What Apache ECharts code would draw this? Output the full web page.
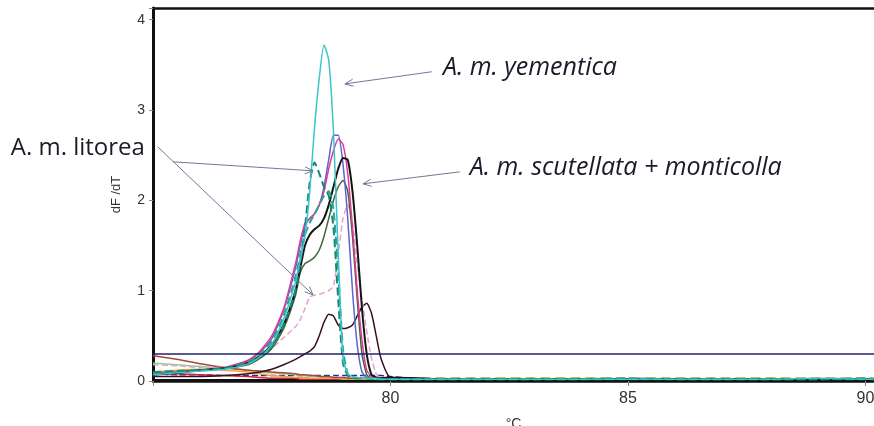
<!DOCTYPE html>
<html><head><meta charset="utf-8">
<script src="https://cdn.jsdelivr.net/npm/echarts@6/dist/echarts.min.js"></script>
<style>html,body{margin:0;padding:0;background:#fff}#c{width:874px;height:426px}</style>
</head><body><div id="c"></div>
<script>
// Temperatures (°C)
const temps = [75, 75.5, 76, 76.5, 77, 77.25, 77.5, 77.75, 78, 78.1, 78.2, 78.3, 78.4, 78.5, 78.6, 78.7, 78.8, 78.9, 79, 79.1, 79.2, 79.3, 79.4, 79.5, 79.6, 79.7, 79.8, 80, 80.5, 81, 82, 83, 84, 85, 86, 87, 88, 89, 90, 90.18];

// dF/dT values
const yementica = [0.07,0.09,0.11,0.13,0.19,0.27,0.4,0.68,1.1,1.35,1.6,2.1,2.8,3.35,3.72,3.55,2.75,1.4,0.25,0.08,0.05,0.04,0.03,0.03,0.03,0.03,0.02,0.02,0.02,0.02,0.02,0.02,0.02,0.02,0.02,0.02,0.02,0.03,0.02,0.02];
const litoreaA = [0.1,0.11,0.12,0.14,0.2,0.27,0.38,0.62,1.0,1.3,1.7,2.2,2.42,2.3,2.15,2.05,1.7,0.9,0.2,0.06,0.04,0.03,0.03,0.03,0.03,0.02,0.02,0.02,0.02,0.02,0.02,0.02,0.02,0.02,0.02,0.02,0.02,0.02,0.02,0.02];
const litoreaB = [0.09,0.1,0.12,0.14,0.21,0.3,0.44,0.72,1.15,1.4,1.62,1.75,1.85,1.95,2.05,2.1,1.9,1.2,0.35,0.08,0.04,0.03,0.03,0.03,0.02,0.02,0.02,0.02,0.02,0.02,0.02,0.02,0.02,0.03,0.02,0.02,0.02,0.02,0.03,0.02];
const scutBlue = [0.07,0.09,0.12,0.14,0.22,0.32,0.47,0.78,1.25,1.5,1.72,1.8,1.85,1.95,2.15,2.45,2.72,2.72,2.4,1.8,1.0,0.4,0.1,0.04,0.03,0.03,0.02,0.02,0.02,0.02,0.02,0.02,0.02,0.02,0.02,0.02,0.02,0.02,0.02,0.02];
const scutPink = [0.08,0.1,0.12,0.15,0.23,0.33,0.5,0.8,1.3,1.55,1.75,1.8,1.85,1.95,2.1,2.35,2.55,2.68,2.62,2.3,1.7,1.0,0.45,0.12,0.05,0.03,0.02,0.02,0.02,0.02,0.02,0.02,0.02,0.02,0.02,0.02,0.02,0.02,0.02,0.02];
const monticBlack = [0.07,0.09,0.12,0.14,0.2,0.28,0.4,0.62,1.0,1.25,1.5,1.62,1.68,1.72,1.8,1.95,2.15,2.35,2.47,2.45,2.1,1.5,0.8,0.3,0.07,0.04,0.03,0.04,0.03,0.02,0.02,0.02,0.02,0.02,0.02,0.02,0.02,0.02,0.02,0.02];
const monticOlive = [0.09,0.1,0.12,0.14,0.18,0.25,0.36,0.58,0.95,1.2,1.3,1.33,1.37,1.45,1.6,1.8,2.0,2.15,2.22,2.1,1.6,0.9,0.3,0.07,0.03,0.03,0.02,0.02,0.02,0.02,0.02,0.02,0.02,0.02,0.02,0.02,0.02,0.02,0.02,0.02];
const lightPink = [0.18,0.17,0.15,0.15,0.22,0.28,0.36,0.48,0.6,0.68,0.8,0.93,0.95,0.96,0.98,1.0,1.05,1.4,1.8,1.95,1.75,1.3,0.9,0.55,0.25,0.08,0.03,0.02,0.02,0.02,0.02,0.02,0.02,0.02,0.02,0.02,0.02,0.02,0.02,0.02];
const maroon = [0.05,0.05,0.05,0.06,0.08,0.1,0.13,0.18,0.24,0.27,0.3,0.33,0.38,0.5,0.65,0.74,0.72,0.62,0.58,0.59,0.62,0.72,0.82,0.86,0.75,0.5,0.25,0.04,0.03,0.02,0.02,0.02,0.02,0.02,0.02,0.02,0.02,0.02,0.02,0.02];
const brownRed = [0.28,0.24,0.19,0.15,0.12,0.11,0.1,0.09,0.08,0.07,0.07,0.06,0.06,0.05,0.05,0.05,0.04,0.04,0.04,0.03,0.03,0.03,0.03,0.03,0.03,0.03,0.03,0.02,0.02,0.02,0.02,0.02,0.02,0.02,0.02,0.02,0.02,0.02,0.02,0.02];
const lightGreen = [0.2,0.18,0.16,0.14,0.12,0.1,0.09,0.08,0.07,0.06,0.06,0.05,0.05,0.05,0.04,0.04,0.04,0.03,0.03,0.03,0.03,0.03,0.03,0.03,0.03,0.02,0.02,0.02,0.02,0.02,0.02,0.02,0.02,0.02,0.02,0.02,0.02,0.02,0.02,0.02];
const orange = [0.1,0.12,0.13,0.12,0.1,0.08,0.06,0.05,0.04,0.04,0.04,0.03,0.03,0.03,0.03,0.03,0.03,0.03,0.02,0.02,0.02,0.02,0.02,0.02,0.02,0.02,0.02,0.02,0.02,0.02,0.02,0.02,0.02,0.02,0.02,0.02,0.02,0.02,0.02,0.02];
const redLow = [0.08,0.08,0.07,0.06,0.05,0.04,0.03,0.03,0.03,0.02,0.02,0.02,0.02,0.02,0.02,0.02,0.02,0.02,0.02,0.02,0.02,0.02,0.02,0.02,0.02,0.02,0.02,0.02,0.02,0.02,0.02,0.02,0.02,0.02,0.02,0.02,0.02,0.02,0.02,0.02];
const navyLow = [0.08,0.07,0.07,0.06,0.06,0.06,0.06,0.06,0.06,0.06,0.06,0.06,0.06,0.06,0.06,0.06,0.06,0.06,0.06,0.06,0.06,0.06,0.06,0.06,0.06,0.06,0.06,0.05,0.03,0.02,0.02,0.02,0.02,0.02,0.02,0.02,0.02,0.02,0.02,0.02];
const baseLine = [0.01,0.01,0.01,0.01,0.01,0.01,0.01,0.01,0.01,0.01,0.01,0.01,0.01,0.01,0.01,0.01,0.01,0.01,0.01,0.01,0.01,0.01,0.01,0.01,0.01,0.01,0.01,0.01,0.01,0.01,0.01,0.01,0.01,0.01,0.01,0.01,0.01,0.01,0.01,0.01];
const tailDash = [null,null,null,null,null,null,null,null,null,null,null,null,null,null,null,null,null,null,null,null,null,null,null,null,null,null,null,0.03,0.03,0.03,0.03,0.03,0.03,0.03,0.03,0.03,0.03,0.03,0.03,0.03];

// Threshold level
const threshold = 0.3;

// Axis ticks
const xTicks = [80, 85, 90];
const yTicks = [0, 1, 2, 3, 4];

const seriesDefs = [
  ['baseline', baseLine, '#111111', 2, 'solid'],
  ['navyLow', navyLow, '#2a2a8a', 1.5, 'dashed'],
  ['redLow', redLow, '#d02040', 1.5, 'solid'],
  ['orange', orange, '#f0a040', 1.5, 'solid'],
  ['lightGreen', lightGreen, '#8fd08f', 1.5, 'solid'],
  ['brownRed', brownRed, '#a84838', 1.5, 'solid'],
  ['tail', tailDash, '#b8c060', 2.5, 'dashed'],
  ['maroon', maroon, '#3a1020', 1.5, 'solid'],
  ['lightPink', lightPink, '#e6a0d4', 1.5, 'dashed'],
  ['monticOlive', monticOlive, '#40663a', 1.5, 'solid'],
  ['scutBlue', scutBlue, '#6060d8', 1.5, 'solid'],
  ['scutPink', scutPink, '#e03c96', 1.5, 'solid'],
  ['monticBlack', monticBlack, '#151515', 2, 'solid'],
  ['litoreaB', litoreaB, '#2aa58a', 2, 'dashed'],
  ['litoreaA', litoreaA, '#12897a', 2, 'dashed'],
  ['yementica', yementica, '#3cc4c8', 1.5, 'solid']
];

const series = seriesDefs.map(([name, vals, color, w, type]) => ({
  name, type: 'line', showSymbol: false, smooth: 0.2, connectNulls: false,
  data: temps.map((t, i) => [t, vals[i]]),
  lineStyle: { color, width: w, type }, itemStyle: { color },
  silent: true
}));
series[0].markLine = {
  symbol: ['none', 'none'], silent: true, label: { show: false },
  lineStyle: { color: '#22226e', width: 1.5, type: 'solid' },
  data: [{ yAxis: threshold }]
};

const chart = echarts.init(document.getElementById('c'), null, { renderer: 'canvas' });
chart.setOption({
  animation: false,
  backgroundColor: '#ffffff',
  grid: { left: 153, right: 0, top: 8, bottom: 45, containLabel: false, outerBoundsMode: 'none' },
  xAxis: [{
    type: 'value', min: 75, max: 90.18, interval: 5,
    name: '°C', nameLocation: 'middle', nameGap: 36,
    nameTextStyle: { fontFamily: 'Liberation Sans', fontSize: 14, color: '#333' },
    axisLine: { lineStyle: { color: '#111', width: 2.5 } },
    axisTick: { length: 5, lineStyle: { color: '#888' } },
    axisLabel: { fontFamily: 'Liberation Sans', fontSize: 16, color: '#333', margin: 10,
      formatter: v => xTicks.includes(v) ? String(v) : '' },
    splitLine: { show: false }
  }, {
    type: 'value', position: 'top', min: 75, max: 90.18,
    axisLine: { show: true, lineStyle: { color: '#111', width: 2.5 } },
    axisTick: { show: false }, axisLabel: { show: false }, splitLine: { show: false }
  }],
  yAxis: {
    type: 'value', min: 0, max: 4.13, interval: 1,
    name: 'dF /dT', nameLocation: 'middle', nameGap: 30,
    nameTextStyle: { fontFamily: 'Liberation Sans', fontSize: 13, color: '#333' },
    axisLine: { show: true, lineStyle: { color: '#111', width: 3 } },
    axisTick: { show: true, length: 4, lineStyle: { color: '#888' } },
    axisLabel: { fontFamily: 'Liberation Sans', fontSize: 14, color: '#333', margin: 8,
      formatter: v => yTicks.includes(v) ? String(v) : '' },
    splitLine: { show: false }
  },
  series
});

// Annotations (data coordinates)
const annotations = [
  { text: 'A. m. yementica', at: [81.105, 3.468], align: 'left', italic: true, size: 25,
    arrows: [[[80.87, 3.424], [79.04, 3.29]]] },
  { text: 'A. m. scutellata + monticolla', at: [81.67, 2.36], align: 'left', italic: true, size: 25,
    arrows: [[[81.46, 2.316], [79.42, 2.183]]] },
  { text: 'A. m. litorea', at: [74.83, 2.58], align: 'right', italic: false, size: 24,
    arrows: [[[75.1, 2.593], [78.37, 0.953]], [[75.42, 2.427], [78.37, 2.327]]] }
];

const px = p => chart.convertToPixel({ gridIndex: 0 }, p);
const graphics = [];
annotations.forEach(a => {
  const p = px(a.at);
  graphics.push({ type: 'text', x: p[0], y: p[1], z: 100,
    style: { text: a.text, fill: '#1a1a2a', textAlign: a.align, textVerticalAlign: 'middle',
      font: (a.italic ? 'italic ' : '') + a.size + 'px "Open Sans"' } });
  a.arrows.forEach(([s, e]) => {
    const p0 = px(s), p1 = px(e);
    const ang = Math.atan2(p0[1] - p1[1], p0[0] - p1[0]);
    const L = 9, spread = 0.4;
    graphics.push({ type: 'polyline', z: 100, shape: { points: [p0, p1] },
      style: { stroke: '#6f7a96', lineWidth: 1, fill: null } });
    graphics.push({ type: 'polyline', z: 100, shape: { points: [
      [p1[0] + L * Math.cos(ang + spread), p1[1] + L * Math.sin(ang + spread)], p1,
      [p1[0] + L * Math.cos(ang - spread), p1[1] + L * Math.sin(ang - spread)]] },
      style: { stroke: '#6f7a96', lineWidth: 1, fill: null } });
  });
});
chart.setOption({ graphic: graphics });
</script></body></html>
